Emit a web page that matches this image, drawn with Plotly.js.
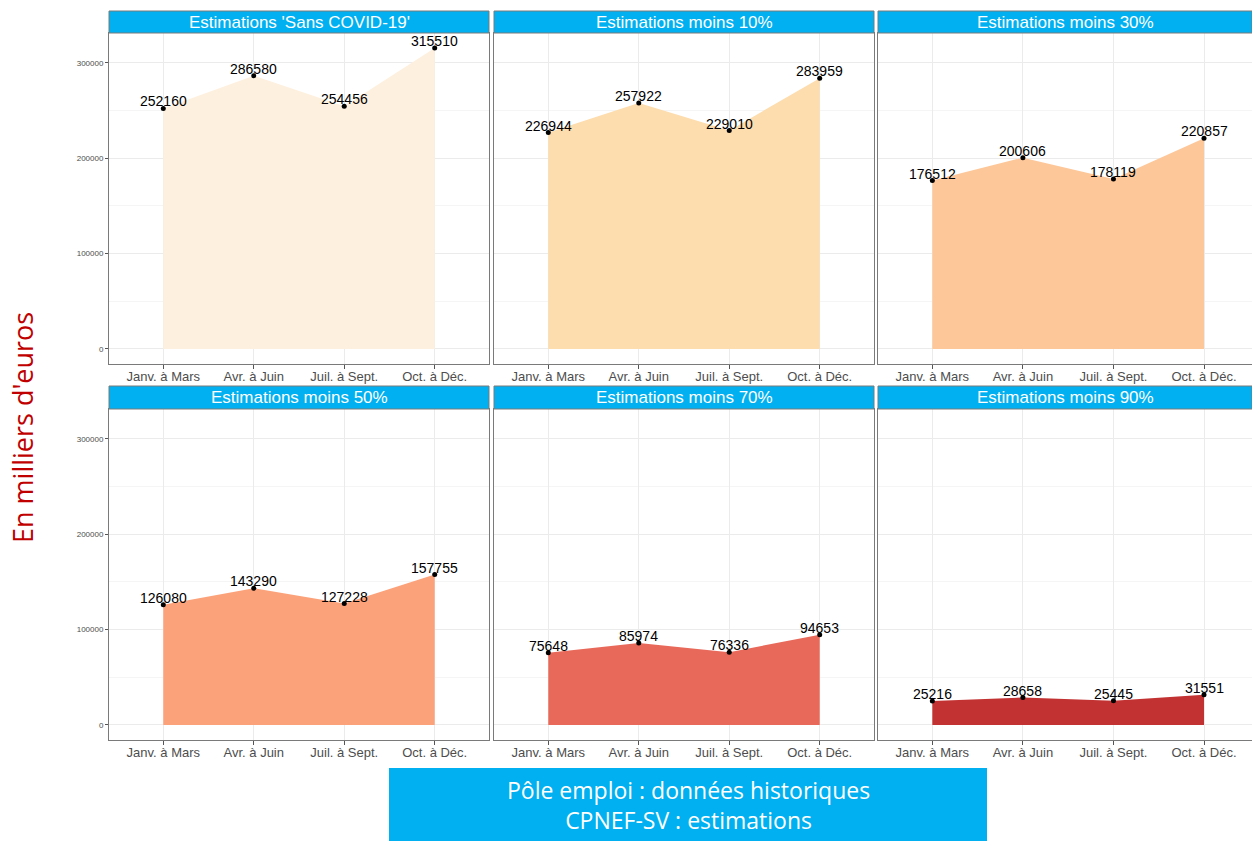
<!DOCTYPE html>
<html>
<head>
<meta charset="utf-8">
<script src="https://cdn.plot.ly/plotly-3.0.1.min.js"></script>
<style>html,body{margin:0;padding:0;background:#fff;}#chart{width:1252px;height:841px;}</style>
</head>
<body>
<div id="chart"></div>
<script>
const categories = ["Janv. à Mars", "Avr. à Juin", "Juil. à Sept.", "Oct. à Déc."];
const panelTitles = ["Estimations 'Sans COVID-19'", "Estimations moins 10%", "Estimations moins 30%",
                     "Estimations moins 50%", "Estimations moins 70%", "Estimations moins 90%"];
const sansCovid = [252160, 286580, 254456, 315510];
const moins10 = [226944, 257922, 229010, 283959];
const moins30 = [176512, 200606, 178119, 220857];
const moins50 = [126080, 143290, 127228, 157755];
const moins70 = [75648, 85974, 76336, 94653];
const moins90 = [25216, 28658, 25445, 31551];
const series = [sansCovid, moins10, moins30, moins50, moins70, moins90];
const fillColors = ["#FEF0DF", "#FDDCAE", "#FDC79A", "#FCA27A", "#E8695A", "#C33232"];
const yTitle = "En milliers d'euros";
const footerLines = ["Pôle emploi : données historiques", "CPNEF-SV : estimations"];

const W = 1252, H = 841;
const colPx = [[109, 489], [494, 874], [878, 1252]];
const rowPx = [[33, 364], [409, 740]];
const stripPx = [[11, 33], [386, 409]];
const xRanges = [[-0.6, 3.6], [-0.6, 3.6], [-0.6, 3.53]];
const yRange = [-15775, 331285];

const traces = [];
const layout = {
  width: W, height: H,
  margin: {l: 0, r: 0, t: 0, b: 0},
  paper_bgcolor: "#ffffff",
  plot_bgcolor: "#ffffff",
  showlegend: false,
  font: {family: "Liberation Sans, Arial, sans-serif", color: "#000"},
  shapes: [],
  annotations: []
};

for (let i = 0; i < 6; i++) {
  const r = Math.floor(i / 3), c = i % 3;
  const n = i + 1;
  const xa = n === 1 ? "x" : "x" + n;
  const ya = n === 1 ? "y" : "y" + n;
  traces.push({
    type: "scatter", x: categories, y: series[i],
    xaxis: xa, yaxis: ya,
    mode: "lines+markers",
    fill: "tozeroy",
    fillcolor: fillColors[i],
    line: {width: 0, color: fillColors[i]},
    marker: {size: 5, color: "#000"},
    cliponaxis: false,
    hoverinfo: "skip"
  });
  // value labels
  categories.forEach((cat, k) => {
    layout.annotations.push({
      xref: xa, yref: ya, x: cat, y: series[i][k],
      text: String(series[i][k]), showarrow: false,
      xanchor: "center", yanchor: "middle", yshift: 7,
      font: {size: 14, color: "#000", family: "Liberation Sans, Arial, sans-serif"}
    });
  });
  const xd = [colPx[c][0] / W, colPx[c][1] / W];
  const yd = [(H - rowPx[r][1]) / H, (H - rowPx[r][0]) / H];
  layout["xaxis" + (n === 1 ? "" : n)] = {
    domain: xd, anchor: ya, type: "category",
    range: xRanges[c],
    showgrid: true, gridcolor: "#EBEBEB", gridwidth: 1,
    zeroline: false,
    showline: true, mirror: true, linecolor: "#7a7a7a", linewidth: 1,
    ticks: "outside", ticklen: 4, tickcolor: "#555",
    ticklabelstandoff: -4,
    tickfont: {size: 13, color: "#4D4D4D", family: "Liberation Sans, Arial, sans-serif"},
    fixedrange: true
  };
  layout["yaxis" + (n === 1 ? "" : n)] = {
    domain: yd, anchor: xa,
    range: yRange,
    tickmode: "linear", tick0: 0, dtick: 100000, tickformat: "d",
    showticklabels: c === 0,
    ticks: c === 0 ? "outside" : "", ticklen: 3, tickcolor: "#555",
    tickfont: {size: 8, color: "#4D4D4D", family: "Liberation Sans, Arial, sans-serif"},
    showgrid: true, gridcolor: "#EBEBEB", gridwidth: 1,
    minor: {dtick: 50000, tick0: 0, showgrid: true, gridcolor: "#F5F5F5", gridwidth: 1},
    zeroline: false,
    showline: true, mirror: true, linecolor: "#7a7a7a", linewidth: 1,
    fixedrange: true
  };
  // strip
  layout.shapes.push({
    type: "rect", xref: "paper", yref: "paper",
    x0: xd[0], x1: xd[1],
    y0: (H - stripPx[r][1]) / H, y1: (H - stripPx[r][0]) / H,
    fillcolor: "#00B0F0", line: {color: "#7a7a7a", width: 1}, layer: "above"
  });
  layout.annotations.push({
    xref: "paper", yref: "paper",
    x: (xd[0] + xd[1]) / 2, y: (H - (stripPx[r][0] + stripPx[r][1]) / 2) / H,
    xanchor: "center", yanchor: "middle", showarrow: false,
    text: panelTitles[i],
    font: {size: 17, color: "#ffffff", family: "Liberation Sans, Arial, sans-serif"}
  });
}

// y title
layout.annotations.push({
  xref: "paper", yref: "paper", x: 22 / W, y: (H - 428) / H,
  xanchor: "center", yanchor: "middle", showarrow: false, textangle: -90,
  text: yTitle,
  font: {size: 27, color: "#C00000", family: "Open Sans, Noto Sans, sans-serif"}
});

// footer box
layout.shapes.push({
  type: "rect", xref: "paper", yref: "paper",
  x0: 389 / W, x1: 987 / W, y0: 0, y1: (H - 768) / H,
  fillcolor: "#00B0F0", line: {width: 0}, layer: "above"
});
layout.annotations.push({
  xref: "paper", yref: "paper", x: 688 / W, y: (H - 805) / H,
  xanchor: "center", yanchor: "middle", showarrow: false,
  text: footerLines.join("<br>"),
  font: {size: 23, color: "#ffffff", family: "Open Sans, Noto Sans, sans-serif"}
});

Plotly.newPlot("chart", traces, layout, {displayModeBar: false, staticPlot: true});
</script>
</body>
</html>
